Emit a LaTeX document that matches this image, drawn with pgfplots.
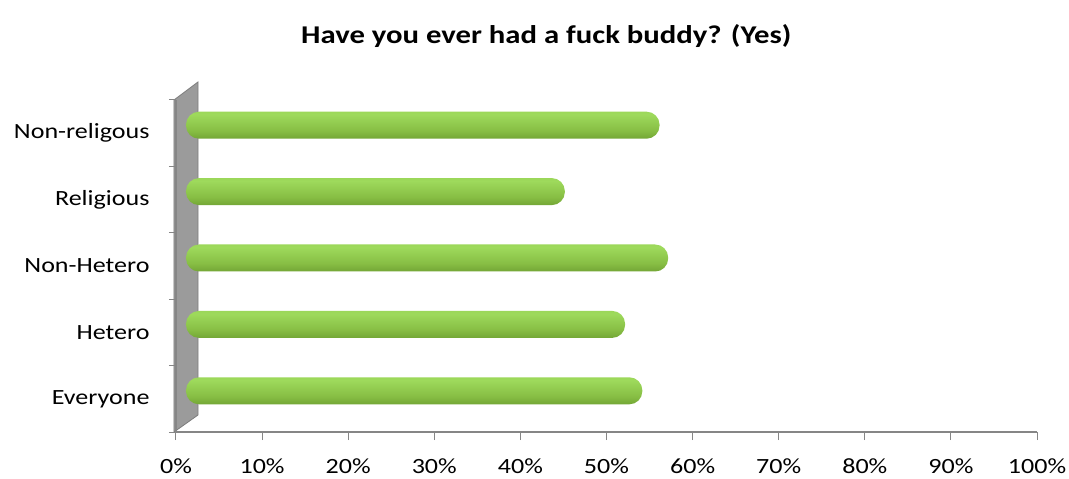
\documentclass[border=0pt]{standalone}
\usepackage{pgfplots}
\pgfplotsset{compat=1.18}
\usepackage{fontspec}
\setmainfont{Carlito}[FakeStretch=1.2]
\definecolor{axgray}{RGB}{134,134,134}
\definecolor{wallfill}{RGB}{155,155,155}
\definecolor{walledge}{RGB}{125,125,125}
\definecolor{cA}{RGB}{78,118,32}
\definecolor{cB}{RGB}{102,150,44}
\definecolor{cC}{RGB}{135,190,68}
\definecolor{cD}{RGB}{158,218,92}
\definecolor{cE}{RGB}{150,210,84}
\definecolor{cF}{RGB}{128,168,70}
\definecolor{cG}{RGB}{110,140,60}
\pgfdeclareverticalshading{cyl}{100bp}{color(0bp)=(cA); color(15bp)=(cB); color(40bp)=(cC); color(70bp)=(cD); color(85bp)=(cE); color(95bp)=(cF); color(100bp)=(cG)}
\pgfplotsset{cylbar/.style={xbar, bar width=27bp, bar shift=0pt, xshift=10bp, yshift=8bp, draw=none, shading=cyl, rounded corners=13bp}}
\begin{document}
\begin{tikzpicture}
\path[use as bounding box] (-176bp,-47bp) rectangle (893bp,432bp);
\filldraw[fill=wallfill, draw=walledge, line width=0.8bp] (-2bp,0bp) -- (22bp,17bp) -- (22bp,350bp) -- (-2bp,332bp) -- cycle;
\begin{axis}[
  at={(0,0)}, anchor=south west,
  width=861bp, height=332bp, scale only axis,
  xmin=0, xmax=100, ymin=-0.5, ymax=4.5,
  axis lines*=left,
  axis line style={axgray, line width=1.3bp},
  clip=false,
  xtick={0,10,...,100},
  xticklabels={0\%,10\%,20\%,30\%,40\%,50\%,60\%,70\%,80\%,90\%,100\%},
  ytick={0,1,2,3,4},
  yticklabels={Everyone,Hetero,Non-Hetero,Religious,Non-religous},
  minor ytick={-0.5,0.5,1.5,2.5,3.5,4.5},
  major y tick style={draw=none},
  minor y tick style={axgray, line width=1bp},
  major x tick style={axgray, line width=1bp},
  tick align=outside,
  major tick length=8bp, minor tick length=7bp,
  tick label style={font=\fontsize{21.7bp}{24bp}\selectfont, text=black},
  xticklabel style={yshift=-15bp},
  yticklabel style={xshift=-15bp},
  title={Have you ever had a fuck buddy? (Yes)},
  title style={font=\bfseries\fontsize{25.6bp}{30bp}\selectfont, at={(rel axis cs:0.43,1)}, anchor=center, yshift=58bp},
]
\addplot[cylbar] coordinates {(53,0)};
\addplot[cylbar] coordinates {(51,1)};
\addplot[cylbar] coordinates {(56,2)};
\addplot[cylbar] coordinates {(44,3)};
\addplot[cylbar] coordinates {(55,4)};
\end{axis}
\end{tikzpicture}
\end{document}
